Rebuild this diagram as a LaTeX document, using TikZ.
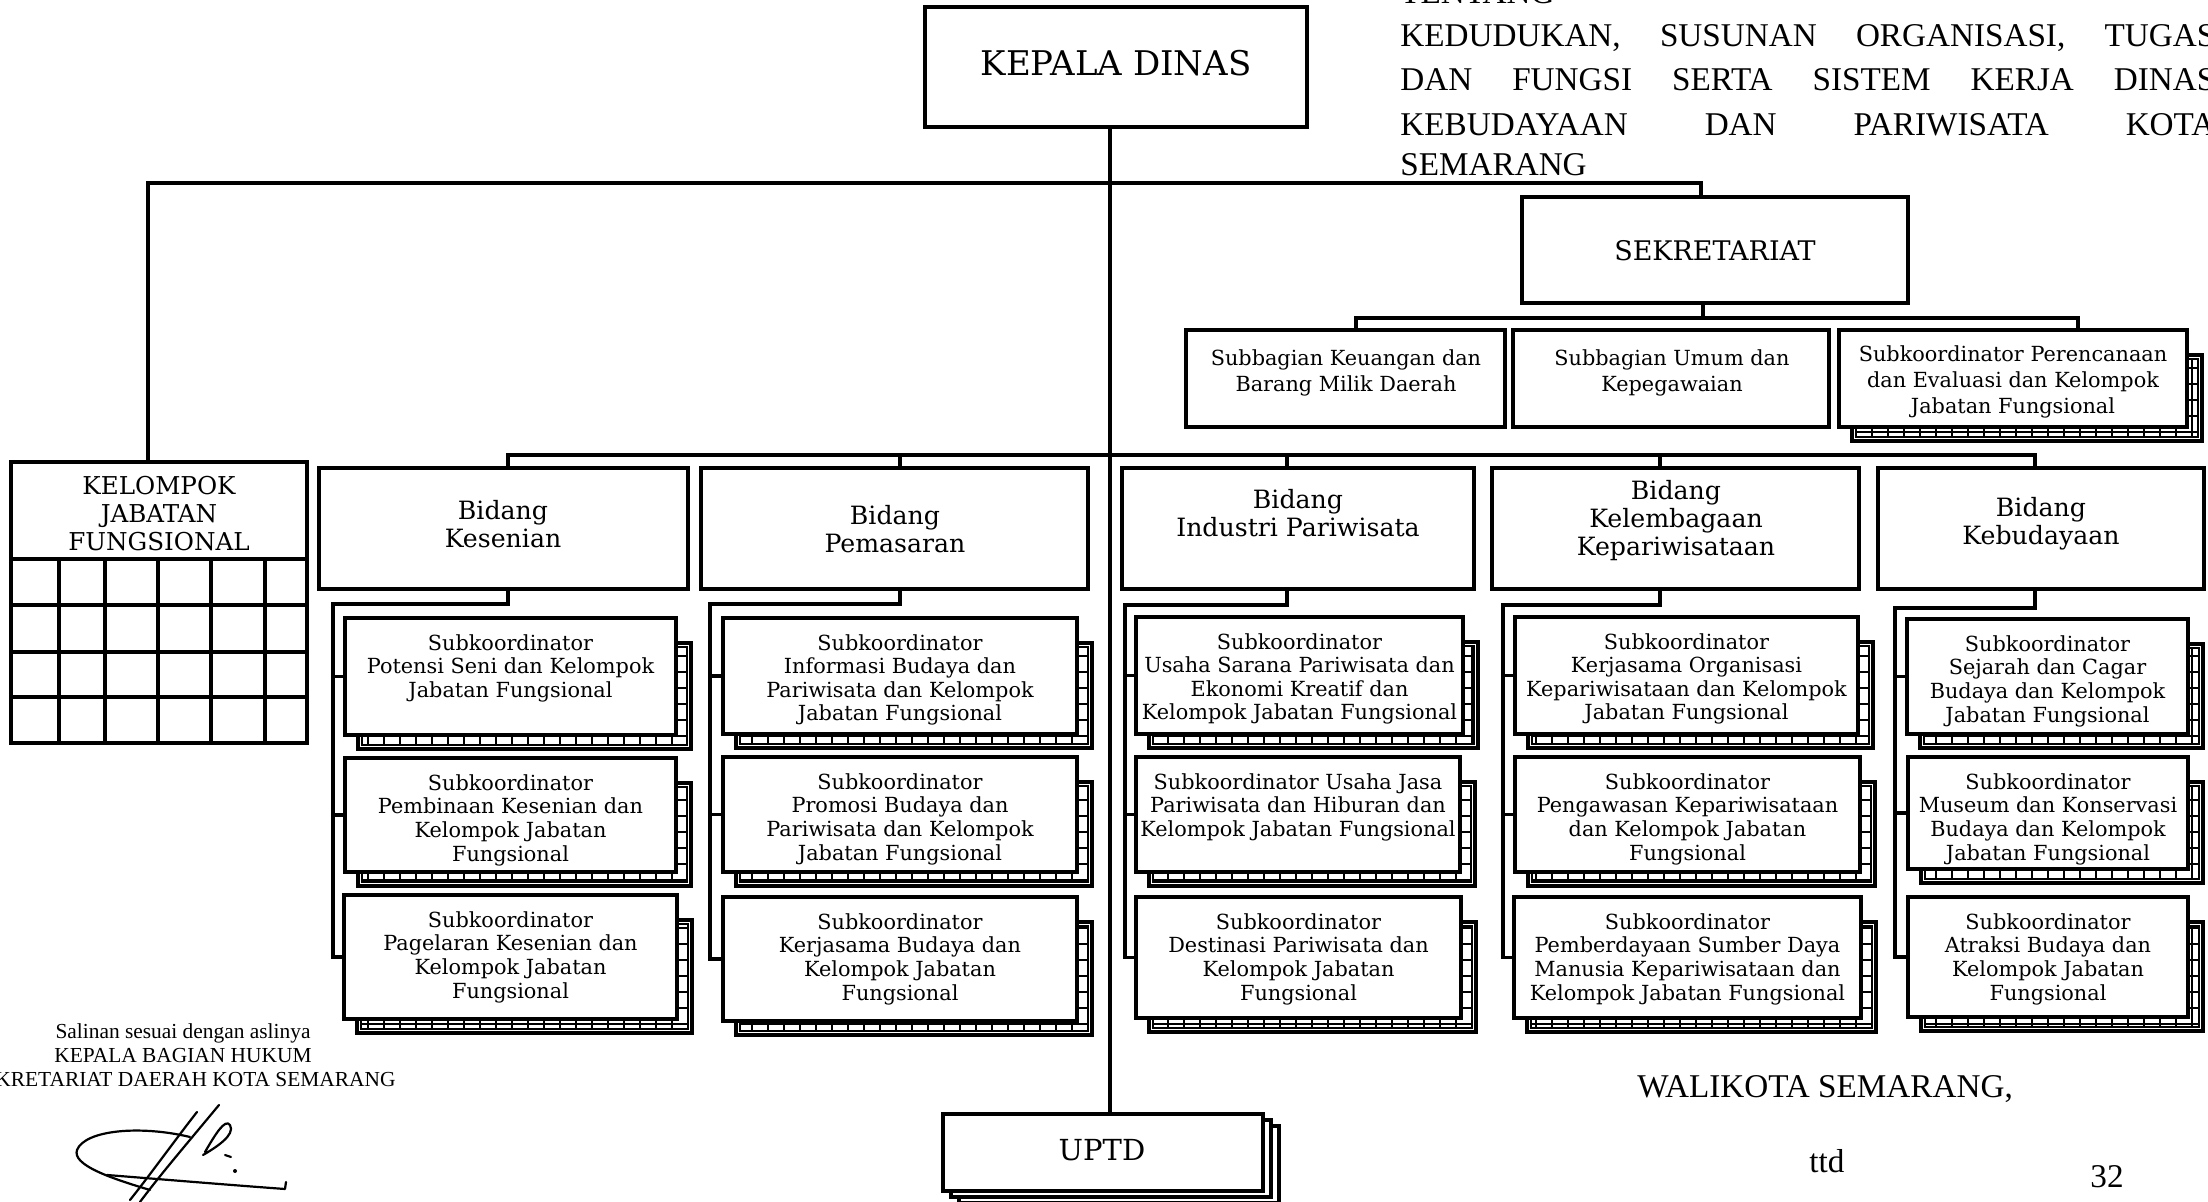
\documentclass[tikz,border=0pt]{standalone}
\usepackage{fontspec}
\setmainfont{DejaVu Serif}
\newfontfamily\tms{Liberation Serif}
\usetikzlibrary{backgrounds,calc}
% box from pixel corners
\newcommand\tbox[5]{\node[box, minimum width={(#4-#2)*0.5pt}, minimum height={(#5-#3)*0.5pt}] (#1) at ({(#2+#4)/2},{(#3+#5)/2}) {};}
% ladder shadow behind a box
\newcommand\gridshadow[1]{%
 \begin{pgfonlayer}{background}
 \path (#1.north west) ++(13,25) coordinate (#1-a);
 \path (#1.south east) ++(15,14) coordinate (#1-b);
 \path (#1-a) ++(4,4) coordinate (#1-c);
 \path (#1-b) ++(-4,-4) coordinate (#1-d);
 \fill[white] (#1-a) rectangle (#1-b);
 \begin{scope}
 \clip (#1-c) rectangle (#1-d);
 \draw[line width=0.8pt, step=8pt] (#1-a) grid (#1-b);
 \end{scope}
 \draw[line width=0.8pt] (#1-c) rectangle (#1-d);
 \draw[line width=2.3pt] (#1-a) rectangle (#1-b);
 \end{pgfonlayer}}
\newcommand\mksub[6]{\tbox{#1}{#2}{#3}{#4}{#5}\gridshadow{#1}\node[sub,anchor=north] (#1t) at ([yshift=-8pt]#1.north) {#6};}
\newcommand\colconn[4]{\draw[conn] (#1.south -| #2) -- (#2 |- #3) -- (#3) |- (#43.west);
 \draw[conn] (#3) |- (#41.west); \draw[conn] (#3) |- (#42.west);}
\begin{document}
\begin{tikzpicture}[x=0.5pt,y=-0.5pt,
 frame/.style={draw, line width=2pt, fill=white},
 box/.style={frame, inner sep=0pt, outer sep=0pt},
 conn/.style={line width=1.65pt},
 sub/.style={font=\fontsize{10.4}{11.8}\selectfont, align=center, inner sep=0pt},
 sek/.style={font=\fontsize{10.4}{12.8}\selectfont, align=center, inner sep=0pt},
 bid/.style={font=\fontsize{12.6}{14}\selectfont, align=center, inner sep=0pt},
 tmbig/.style={font=\tms\fontsize{16.6}{20}\selectfont, inner sep=0pt},
 tmsmall/.style={font=\tms\fontsize{10.7}{12}\selectfont, inner sep=0pt}]
\useasboundingbox (0,0) rectangle (2208,1202);

% ---------- header text ----------
\node[tmbig, anchor=base west] (h0) at (1400,4) {TENTANG};
\node[tmbig, anchor=base west] (h1) at (1400,47) {\makebox[407.5pt][s]{KEDUDUKAN, SUSUNAN ORGANISASI, TUGAS}};
\node[tmbig, anchor=base west] (h2) at (1400,91) {\makebox[407.5pt][s]{DAN FUNGSI SERTA SISTEM KERJA DINAS}};
\node[tmbig, anchor=base west] (h3) at (1400,136) {\makebox[407.5pt][s]{KEBUDAYAAN DAN PARIWISATA KOTA}};
\node[tmbig, anchor=base west] (h4) at (1400,176) {SEMARANG};

% ---------- top level ----------
\tbox{kd}{925}{7}{1307}{127}
\node[font=\fontsize{17}{20}\selectfont, inner sep=0pt] (kdt) at (1116,63) {KEPALA DINAS};
\tbox{sek}{1522}{197}{1908}{303}
\node[font=\fontsize{13.5}{16}\selectfont, inner sep=0pt] (sekt) at (1715,251) {SEKRETARIAT};

\tbox{sA}{1186}{330}{1505}{427}
\node[sek] (sAt) at (1346,373) {Subbagian Keuangan dan\\Barang Milik Daerah};
\tbox{sB}{1513}{330}{1829}{427}
\node[sek] (sBt) at (1672,373) {Subbagian Umum dan\\Kepegawaian};
\tbox{sC}{1839}{330}{2187}{427}
\gridshadow{sC}
\node[sek] (sCt) at (2013,382) {Subkoordinator Perencanaan\\dan Evaluasi dan Kelompok\\Jabatan Fungsional};

% ---------- kelompok jabatan fungsional ----------
\tbox{kjf}{11}{462}{307}{559}
\node[font=\fontsize{12.3}{14}\selectfont, align=center, inner sep=0pt] (kjft) at (159,514) {KELOMPOK\\JABATAN\\FUNGSIONAL};
\draw[line width=2pt] (kjf.south west) rectangle (307,743);
\foreach \x in {59,105,158,211,265} \draw[line width=2pt] (\x,559) -- (\x,743);
\foreach \y in {605,652,697} \draw[line width=2pt] (11,\y) -- (307,\y);

% ---------- bidang ----------
\tbox{bk}{319}{468}{688}{589}
\node[bid] (bkt) at (503,524) {Bidang\\Kesenian};
\tbox{bp}{701}{468}{1088}{589}
\node[bid] (bpt) at (895,529) {Bidang\\Pemasaran};
\tbox{bi}{1122}{468}{1474}{589}
\node[bid] (bit) at (1298,513) {Bidang\\Industri Pariwisata};
\tbox{bkl}{1492}{468}{1859}{589}
\node[bid] (bklt) at (1676,521) {Bidang\\Kelembagaan\\Kepariwisataan};
\tbox{bkb}{1878}{468}{2204}{589}
\node[bid] (bkbt) at (2041,524) {Bidang\\Kebudayaan};

% ---------- subkoordinator ----------
\mksub{s11}{345}{618}{676}{735}{Subkoordinator\\Potensi Seni dan Kelompok\\Jabatan Fungsional}
\mksub{s12}{345}{758}{676}{872}{Subkoordinator\\Pembinaan Kesenian dan\\Kelompok Jabatan\\Fungsional}
\mksub{s13}{344}{895}{677}{1019}{Subkoordinator\\Pagelaran Kesenian dan\\Kelompok Jabatan\\Fungsional}

\mksub{s21}{723}{618}{1077}{734}{Subkoordinator\\Informasi Budaya dan\\Pariwisata dan Kelompok\\Jabatan Fungsional}
\mksub{s22}{723}{757}{1077}{872}{Subkoordinator\\Promosi Budaya dan\\Pariwisata dan Kelompok\\Jabatan Fungsional}
\mksub{s23}{723}{897}{1077}{1021}{Subkoordinator\\Kerjasama Budaya dan\\Kelompok Jabatan\\Fungsional}

\mksub{s31}{1136}{617}{1463}{734}{Subkoordinator\\Usaha Sarana Pariwisata dan\\Ekonomi Kreatif dan\\Kelompok Jabatan Fungsional}
\mksub{s32}{1136}{757}{1460}{872}{Subkoordinator Usaha Jasa\\Pariwisata dan Hiburan dan\\Kelompok Jabatan Fungsional}
\mksub{s33}{1136}{897}{1461}{1018}{Subkoordinator\\Destinasi Pariwisata dan\\Kelompok Jabatan\\Fungsional}

\mksub{s41}{1515}{617}{1858}{734}{Subkoordinator\\Kerjasama Organisasi\\Kepariwisataan dan Kelompok\\Jabatan Fungsional}
\mksub{s42}{1515}{757}{1860}{872}{Subkoordinator\\Pengawasan Kepariwisataan\\dan Kelompok Jabatan\\Fungsional}
\mksub{s43}{1514}{897}{1861}{1018}{Subkoordinator\\Pemberdayaan Sumber Daya\\Manusia Kepariwisataan dan\\Kelompok Jabatan Fungsional}

\mksub{s51}{1907}{619}{2188}{734}{Subkoordinator\\Sejarah dan Cagar\\Budaya dan Kelompok\\Jabatan Fungsional}
\mksub{s52}{1908}{757}{2188}{869}{Subkoordinator\\Museum dan Konservasi\\Budaya dan Kelompok\\Jabatan Fungsional}
\mksub{s53}{1908}{897}{2188}{1017}{Subkoordinator\\Atraksi Budaya dan\\Kelompok Jabatan\\Fungsional}

% ---------- UPTD ----------
\tbox{uptd}{943}{1114}{1263}{1191}
\begin{pgfonlayer}{background}
\draw[frame] ([shift={(16,12)}]uptd.north west) rectangle ([shift={(16,12)}]uptd.south east);
\draw[frame] ([shift={(8,6)}]uptd.north west) rectangle ([shift={(8,6)}]uptd.south east);
\end{pgfonlayer}
\node[font=\fontsize{14.5}{17}\selectfont, inner sep=0pt] (uptdt) at (1102,1150) {UPTD};

% ---------- connectors ----------
\coordinate (tx) at (1110,0);
\coordinate (L) at (148,183);
\coordinate (R) at (1701,183);
\coordinate (S) at (1703,318);
\coordinate (SA) at (1356,318);
\coordinate (SC) at (2078,318);
\coordinate (B1) at (508,455);
\coordinate (B2) at (900,455);
\coordinate (B3) at (1287,455);
\coordinate (B4) at (1660,455);
\coordinate (B5) at (2035,455);
\coordinate (K1) at (333,604);
\coordinate (K2) at (710,604);
\coordinate (K3) at (1125,605);
\coordinate (K4) at (1503,605);
\coordinate (K5) at (1895,608);

\draw[conn] (kd.south -| tx) -- (uptd.north -| tx);
\draw[conn] (kjf.north -| L) -- (L) -- (R) -- (sek.north -| R);
\draw[conn] (sek.south -| S) -- (S);
\draw[conn] (sA.north -| SA) -- (SA) -- (SC) -- (sC.north -| SC);
\draw[conn] (bk.north -| B1) -- (B1) -- (B5) -- (bkb.north -| B5);
\draw[conn] (B2) -- (bp.north -| B2);
\draw[conn] (B3) -- (bi.north -| B3);
\draw[conn] (B4) -- (bkl.north -| B4);
\colconn{bk}{B1}{K1}{s1}
\colconn{bp}{B2}{K2}{s2}
\colconn{bi}{B3}{K3}{s3}
\colconn{bkl}{B4}{K4}{s4}
\colconn{bkb}{B5}{K5}{s5}

% ---------- footer ----------
\node[tmsmall, anchor=base] (c1) at (183,1039) {Salinan sesuai dengan aslinya};
\node[tmsmall, anchor=base] (c2) at (183,1063) {KEPALA BAGIAN HUKUM};
\node[tmsmall, anchor=base] (c3) at (183,1087) {SEKRETARIAT DAERAH KOTA SEMARANG};
\node[tmbig, anchor=base west] (wk) at (1637,1098) {WALIKOTA SEMARANG,};
\node[tmbig, anchor=base] (ttd) at (1827,1173) {ttd};
\node[tmbig, anchor=base] (pg) at (2107,1188) {32};

% signature
\begin{scope}[line width=1.1pt, line cap=round, line join=round]
\draw (190,1137) .. controls (140,1125) and (85,1130) .. (77,1150) .. controls (72,1165) and (110,1178) .. (150,1190);
\draw (107,1175) .. controls (170,1180) and (230,1185) .. (285,1189) -- (286,1182);
\draw (219,1105) .. controls (190,1140) and (160,1175) .. (140,1202);
\draw (197,1112) .. controls (175,1140) and (150,1175) .. (130,1200);
\draw (205,1152) .. controls (215,1135) and (225,1118) .. (230,1125) .. controls (236,1135) and (215,1148) .. (203,1155);
\draw (225,1155) -- (231,1157);
\fill (235,1171) circle[radius=1pt];
\end{scope}
\end{tikzpicture}
\end{document}
